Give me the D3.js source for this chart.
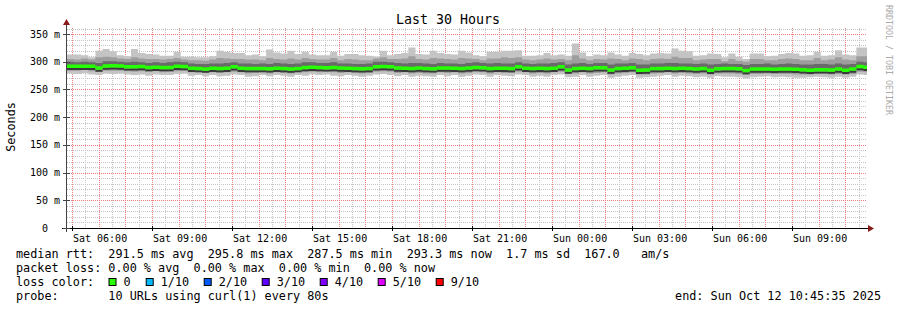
<!DOCTYPE html>
<html>
<head>
<meta charset="utf-8">
<script src="https://cdn.jsdelivr.net/npm/d3@7"></script>
<style>
  body { margin: 0; background: #fff; }
  svg text { font-family: "DejaVu Sans Mono", monospace; white-space: pre; }
</style>
</head>
<body>
<script>
// 16 minute consolidated steps, values in ms
const hi1 = [313,313,312,308,320,323,319,312,310,323,
  316,314,313,311,311,318,309,309,308,308,
  310,320,318,316,316,312,313,310,322,317,
  315,320,314,318,313,312,312,318,311,314,
  314,312,311,309,320,312,314,316,326,314,
  313,320,316,314,313,320,317,312,310,318,
  318,320,320,321,311,311,312,316,312,313,
  311,333,317,310,313,312,317,313,311,316,
  314,312,315,316,315,324,320,319,311,312,
  315,314,308,315,309,305,315,315,310,311,
  314,316,315,311,312,318,311,312,321,313,
  312,326,326]
const hi2 = [305,304,306,304,308,309,308,306,305,308,
  306,305,305,304,305,307,304,303,303,302,
  304,307,306,305,305,304,304,303,307,305,
  304,306,304,307,305,304,304,307,303,305,
  304,303,303,306,308,305,305,306,310,305,
  304,307,306,305,304,307,306,305,303,306,
  306,308,307,308,304,303,304,306,304,305,
  303,312,306,303,305,304,306,305,303,306,
  305,303,305,306,305,309,307,307,303,304,
  305,305,301,305,302,300,305,305,303,303,
  305,306,305,303,303,307,303,304,308,304,
  303,310,310]
const hi3 = [300,299,300,299,298,301,301,300,299,300,
  299,298,299,298,299,300,299,297,296,296,
  297,297,298,299,297,297,296,297,296,298,
  297,296,297,299,299,298,298,299,297,297,
  296,296,297,300,300,299,298,297,298,298,
  297,296,298,297,297,296,298,299,298,297,
  298,297,297,299,297,296,297,297,298,299,
  295,297,298,296,298,298,295,297,297,298,
  295,295,297,297,298,298,297,297,296,297,
  295,296,297,296,296,294,296,296,297,295,
  296,297,296,295,295,296,296,295,297,295,
  296,300,299]
const median = [295,295,295,295,292,295.5,295.8,295.5,294.4,294,
  294.5,293,293.5,293,293,295,294.5,291.5,291,290,
  291.5,291,291.5,294,291.5,291,291,291,290.5,291.5,
  291,290,291,293,293.5,293,292.5,293,292,291.5,
  291,290.5,291,294,294.5,294,292,291.5,291,292,
  291,290.5,292,292,291.5,291,292,293,292.5,291,
  291.5,291.5,291,294.4,291.5,291,291.5,291,291.5,294,
  288.3,291,291.5,291,292.5,292.5,288.5,291,291.5,292.5,
  288,288.5,291,291,291.5,291,291.5,291,290,291,
  288,290.5,291,291,290.5,287.5,290,290,290,289.5,
  290,290,289.5,289,288,289,289,288.5,290,288,
  290,294.5,293.3]
const lo3 = [289,289,290,289,287,290,290,289,289,288,
  289,288,288,287,288,289,289,286,286,285,
  286,285,286,288,286,285,286,286,285,286,
  285,285,286,287,288,287,287,287,286,286,
  285,285,286,288,288,288,286,286,285,286,
  285,285,286,286,286,285,286,287,287,285,
  286,286,285,288,286,285,286,285,286,288,
  283,285,286,285,286,287,283,285,286,287,
  283,283,285,285,286,285,286,285,284,285,
  283,285,285,285,285,282,284,284,284,284,
  284,284,284,283,283,284,284,283,284,283,
  284,288,287]
const lo2 = [284,284,285,283,282,284,284,284,283,282,
  283,282,283,281,282,283,284,281,281,280,
  281,280,281,282,281,279,280,281,279,281,
  280,279,281,281,282,281,282,281,280,281,
  280,279,280,282,283,282,280,281,279,280,
  279,279,281,280,281,279,280,282,281,279,
  281,280,280,282,281,279,280,279,281,282,
  278,279,281,279,280,281,277,279,280,281,
  277,277,279,280,281,279,280,279,278,279,
  277,279,279,279,278,276,278,278,279,278,
  278,278,277,277,277,278,278,277,278,277,
  278,282,281]
const lo1 = [279,278,280,277,276,279,278,279,277,276,
  277,275,277,276,276,278,279,275,276,274,
  276,274,275,277,276,273,274,276,274,276,
  275,273,276,275,277,276,277,275,274,276,
  275,273,275,277,278,276,274,276,273,275,
  274,273,276,274,276,273,275,277,276,273,
  276,275,274,277,276,273,275,273,276,277,
  272,273,276,273,275,276,271,273,275,276,
  271,272,273,275,276,273,275,274,272,273,
  271,274,273,273,272,270,272,273,274,272,
  273,272,271,271,272,273,272,271,273,271,
  273,277,276]

const yTicks = [0, 50, 100, 150, 200, 250, 300, 350]
const yTickLabels = ["0  ", "50 m", "100 m", "150 m", "200 m", "250 m", "300 m", "350 m"]
const lossLabels = ["0", "1/10", "2/10", "3/10", "4/10", "5/10", "9/10"]
const lossColors = ["#26ff00", "#00b8ff", "#0059ff", "#5e00ff", "#7e00ff", "#dd00ff", "#ff0000"]

const start = new Date(2025, 9, 11, 4, 45, 35)
const end = new Date(2025, 9, 12, 10, 45, 35)
const stepMs = 16 * 60 * 1000

const w = 897, h = 310

const svg = d3.select('body').append('svg')
  .attr('width', w).attr('height', h)

const x = d3.scaleTime().domain([start, end]).range([66, 866])
const y = d3.scaleLinear().domain([0, 361]).range([228, 28])
const px = d => Math.floor(x(d)) + 0.5

const isMajor = d => (d.getHours() + 1) % 3 === 0 && d.getMinutes() === 0

// grid
const grid = svg.append('g')
const minorY = d3.range(10, 361, 10).filter(v => v % 50 !== 0)
grid.selectAll('.hmin').data(minorY).enter().append('line')
  .attr('x1', 67).attr('x2', 867)
  .attr('y1', d => Math.round(y(d)) + 0.5).attr('y2', d => Math.round(y(d)) + 0.5)
  .attr('stroke', '#c4c4c4').attr('stroke-dasharray', '1,1')

const halfHours = d3.timeMinute.every(30).range(start, end).filter(d => d.getMinutes() === 30)
grid.selectAll('.vmin').data(halfHours).enter().append('line')
  .attr('x1', px).attr('x2', px)
  .attr('y1', 28).attr('y2', 228)
  .attr('stroke', '#c4c4c4').attr('stroke-dasharray', '1,1')

const hours = d3.timeHour.range(start, end)
grid.selectAll('.vmaj').data(hours).enter().append('line')
  .attr('x1', px).attr('x2', px)
  .attr('y1', 28).attr('y2', 228)
  .attr('stroke', '#f07c7c')
  .attr('stroke-dasharray', '1,1')

grid.selectAll('.hmaj').data(yTicks.slice(1)).enter().append('line')
  .attr('x1', 67).attr('x2', 867)
  .attr('y1', d => Math.round(y(d)) + 0.5).attr('y2', d => Math.round(y(d)) + 0.5)
  .attr('stroke', '#f07c7c').attr('stroke-dasharray', '1,1')

// smoke
const rows = median.map((m, i) => ({
  t: new Date(+start + i * stepMs),
  hi1: hi1[i], hi2: hi2[i], hi3: hi3[i], med: m, lo3: lo3[i], lo2: lo2[i], lo1: lo1[i]
}))
rows.push(Object.assign({}, rows[rows.length - 1], { t: end }))

const bands = [
  { lo: 'lo1', hi: 'hi1', color: '#c4c4c4' },
  { lo: 'lo2', hi: 'hi2', color: '#9e9e9e' },
  { lo: 'lo3', hi: 'hi3', color: '#6a6a6a' }
]
const sx = d => x(d.t) + 1
bands.forEach(b => {
  svg.append('path')
    .datum(rows)
    .attr('fill', b.color)
    .attr('d', d3.area().curve(d3.curveStepAfter)
      .x(sx).y0(d => y(d[b.lo])).y1(d => y(d[b.hi])))
})

svg.append('path')
  .datum(rows)
  .attr('fill', '#3a3a3a')
  .attr('d', d3.area().curve(d3.curveStepAfter)
    .x(sx).y0(d => y(d.med) + 5.5).y1(d => y(d.med) + 3.5))

svg.append('path')
  .datum(rows)
  .attr('fill', lossColors[0])
  .attr('d', d3.area().curve(d3.curveStepAfter)
    .x(sx).y0(d => y(d.med) + 3.5).y1(d => y(d.med)))

// axes
svg.append('line').attr('x1', 62).attr('x2', 869).attr('y1', 228.5).attr('y2', 228.5)
  .attr('stroke', '#000')
svg.append('line').attr('x1', 66.5).attr('x2', 66.5).attr('y1', 232).attr('y2', 24)
  .attr('stroke', '#444')
svg.append('path').attr('d', 'M868,225 L874,228.5 L868,232 Z').attr('fill', '#8b1a1a')
svg.append('path').attr('d', 'M63,25 L66.5,19 L70,25 Z').attr('fill', '#8b1a1a')

// y labels
svg.selectAll('.ylab').data(yTicks).enter().append('text')
  .attr('x', 60).attr('y', d => y(d) + 3.5)
  .attr('text-anchor', 'end').attr('font-size', '10px')
  .text((d, i) => yTickLabels[i])

// y tick marks
svg.selectAll('.ytick').data(yTicks).enter().append('line')
  .attr('x1', 63).attr('x2', 70)
  .attr('y1', d => Math.round(y(d)) + 0.5).attr('y2', d => Math.round(y(d)) + 0.5)
  .attr('stroke', '#444')

// x labels
const labelHours = hours.filter(d => d.getHours() % 3 === 0)
svg.selectAll('.xlab').data(labelHours).enter().append('text')
  .attr('x', d => x(d) + 1).attr('y', 242)
  .attr('text-anchor', 'middle').attr('font-size', '10px')
  .text(d => d3.timeFormat('%a %H:%M')(d))

svg.selectAll('.xtick').data(hours.filter(isMajor)).enter().append('line')
  .attr('x1', px).attr('x2', px)
  .attr('y1', 226).attr('y2', 231)
  .attr('stroke', '#000')

// titles
svg.append('text').attr('x', 448).attr('y', 24).attr('text-anchor', 'middle')
  .attr('font-size', '13.3px').text('Last 30 Hours')

svg.append('text').attr('transform', 'translate(15,127) rotate(-90)')
  .attr('text-anchor', 'middle').attr('font-size', '11.8px').text('Seconds')

svg.append('text').attr('transform', 'translate(886,5) rotate(90)')
  .attr('font-size', '8.3px').attr('fill', '#aaa').text('RRDTOOL / TOBI OETIKER')

// legend
const legend = svg.append('g').attr('font-size', '11.8px')
legend.append('text').attr('x', 16).attr('y', 258)
  .text('median rtt:  291.5 ms avg  295.8 ms max  287.5 ms min  293.3 ms now  1.7 ms sd  167.0   am/s')
legend.append('text').attr('x', 16).attr('y', 272)
  .text('packet loss: 0.00 % avg  0.00 % max  0.00 % min  0.00 % now')
legend.append('text').attr('x', 16).attr('y', 286).text('loss color:')

const boxX = [108.5, 145.7, 203.7, 261.7, 319.7, 377.7, 435.7]
lossLabels.forEach((l, i) => {
  legend.append('rect').attr('x', boxX[i] + 0.5).attr('y', 278.5)
    .attr('width', 7).attr('height', 7)
    .attr('fill', lossColors[i]).attr('stroke', '#000')
  legend.append('text').attr('x', boxX[i] + 15).attr('y', 286).text(l)
})

legend.append('text').attr('x', 16).attr('y', 300)
  .text('probe:       10 URLs using curl(1) every 80s')
legend.append('text').attr('x', 881).attr('y', 300).attr('text-anchor', 'end')
  .text('end: Sun Oct 12 10:45:35 2025')
</script>
</body>
</html>
